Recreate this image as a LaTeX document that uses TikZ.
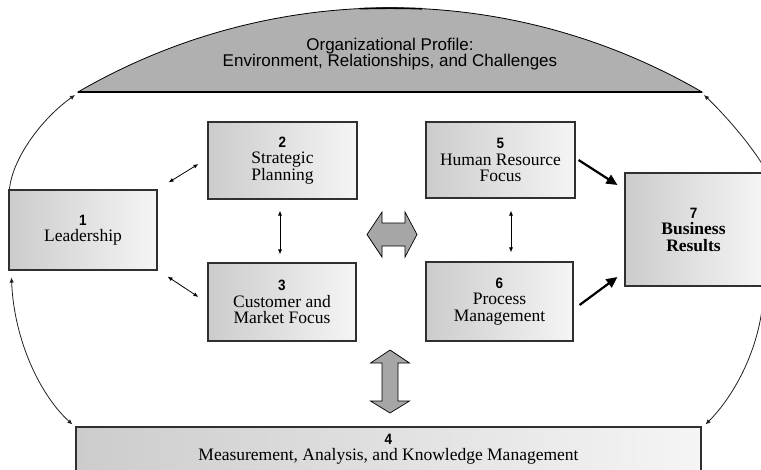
\documentclass[tikz,border=0pt]{standalone}
\usepackage{fontspec}
\setmainfont{Liberation Serif}
\newfontfamily\numf[FakeStretch=0.9]{Liberation Sans}
\newfontfamily\opf{Liberation Sans}
\usetikzlibrary{arrows.meta,calc}
\definecolor{domegray}{HTML}{B0B0B0}
\definecolor{bigarrowgray}{HTML}{A6A6A6}
\definecolor{boxline}{HTML}{303030}
\definecolor{arcline}{HTML}{202020}
\newcommand{\bnum}[1]{{\numf\bfseries\fontsize{15}{15}\selectfont #1}}
\tikzset{
  box/.style={draw=boxline, line width=1.1pt, left color=black!20, right color=black!4,
    align=center, inner sep=0pt, font=\fontsize{17.5}{16.5}\selectfont},
  thinarr/.style={line width=0.8pt, {Latex[length=5pt,width=4pt]}-{Latex[length=5pt,width=4pt]}},
  thickarr/.style={line width=2.2pt, -{Triangle[length=11pt,width=10pt]}},
  outerarc/.style={draw=arcline, line width=0.8pt},
  arctip/.style={-{Latex[length=5pt,width=4.5pt]}},
  arctips/.style={{Latex[length=5pt,width=4.5pt]}-{Latex[length=5pt,width=4.5pt]}},
  bigarrow/.style={draw=black, line width=0.7pt, fill=bigarrowgray}
}
\begin{document}
\begin{tikzpicture}[x=1pt, y=-1pt]
\useasboundingbox (0,0) rectangle (761,469);
\fill[white] (0,0) rectangle (761,469);
\clip (0,0) rectangle (761,469);

% dome (Organizational Profile)
\coordinate (domeL) at (78,92);
\coordinate (domeR) at (702,92);
\path[fill=domegray, draw=black, line width=0.8pt]
  (domeL) .. controls (271.2,-20.2) and (508.8,-20.2) .. (domeR) -- cycle;
\draw[line width=1.6pt] (360,8.7) .. controls (380,8.0) and (402,8.0) .. (422,8.8);
\draw[line width=1.3pt] (domeL) -- (domeR);
\node[font=\opf\fontsize{17}{16}\selectfont, align=center] (OP) at (390,54)
  {Organizational Profile:\\Environment, Relationships, and Challenges};

% boxes
\node[box, minimum width=148pt, minimum height=80pt] (L) at (83,230)
  {\bnum{1}\\Leadership};
\node[box, minimum width=149pt, minimum height=77pt] (S) at (282.5,160.5)
  {\bnum{2}\\Strategic\\Planning};
\node[box, minimum width=148pt, minimum height=78pt] (C) at (282,302)
  {\bnum{3}\\Customer and\\Market Focus};
\node[box, minimum width=149pt, minimum height=76pt] (H) at (500.5,160)
  {\bnum{5}\\Human Resource\\Focus};
\node[box, minimum width=147pt, minimum height=79pt] (P) at (499.5,301.5)
  {\bnum{6}\\Process\\Management};
\node[box, minimum width=137pt, minimum height=113pt] (B) at (693.5,229.5)
  {\bnum{7}\\\bfseries Business\\\bfseries Results};
\node[box, minimum width=625pt, minimum height=44pt] (M) at (388.5,449)
  {\bnum{4}\\Measurement, Analysis, and Knowledge Management};

% outer arcs
\draw[outerarc, arctip] ([xshift=1pt]L.north west) .. controls (12,160) and (40,120) .. ([shift={(-3,3)}]domeL);
\draw[outerarc, arctips] ([shift={(3,7)}]L.south west) .. controls (14,340) and (40,395) .. ([shift={(-3,-2)}]M.north west);
\draw[outerarc, arctip] ([shift={(4,-1)}]B.north east) .. controls (752,145) and (722,112) .. ([shift={(2,3)}]domeR);
\draw[outerarc, arctip] ([shift={(1,4)}]B.south east) .. controls (762,345) and (735,395) .. ([shift={(4,-2)}]M.north east);

% thin double arrows
\draw[thinarr] ([shift={(11,-7)}]L.north east) -- ([shift={(-9,3.5)}]S.west);
\draw[thinarr] ([shift={(10,6)}]L.south east) -- ([shift={(-9,-5)}]C.west);
\draw[thinarr] ([shift={(-2.5,11)}]S.south) -- ([shift={(-2,-8)}]C.north);
\draw[thinarr] ([shift={(10.5,12)}]H.south) -- ([shift={(11.5,-9)}]P.north);

% thick arrows to results
\draw[thickarr] ([shift={(3,0)}]H.east) -- ([shift={(-7,-44.5)}]B.west);
\draw[thickarr] ([shift={(6,3.5)}]P.east) -- ([shift={(-7,47.5)}]B.west);

% big hollow double arrows
\path[bigarrow] (367,234.5) -- (382,212) -- (382,223) -- (405,223) -- (405,212)
  -- (417,234.5) -- (405,257) -- (405,246) -- (382,246) -- (382,257) -- cycle;
\path[bigarrow] (390,350) -- (409.5,363) -- (398,363) -- (398,401) -- (409.5,401)
  -- (390,413) -- (370.5,401) -- (382,401) -- (382,363) -- (370.5,363) -- cycle;
\end{tikzpicture}
\end{document}
